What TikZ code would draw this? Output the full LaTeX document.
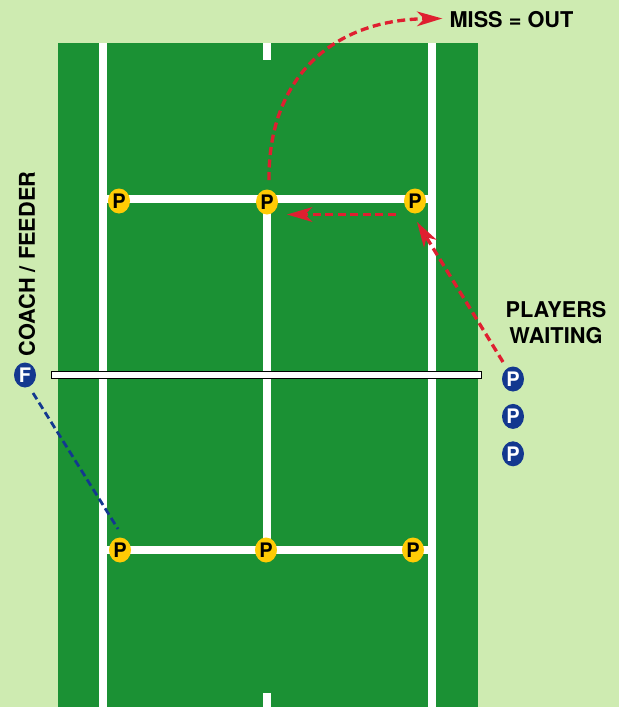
\documentclass[tikz,border=0pt]{standalone}
\usepackage{fontspec}
\setmainfont{TeX Gyre Heros}
\usepackage{xcolor}
\usetikzlibrary{arrows.meta,positioning,shapes.geometric}
\definecolor{surround}{HTML}{CEEBB1}
\definecolor{turf}{HTML}{1B9134}
\definecolor{ballred}{HTML}{DF1F30}
\definecolor{feederblue}{HTML}{13388F}
\definecolor{playeryellow}{HTML}{FFCB05}

\begin{document}
\begin{tikzpicture}[
  x=0.75pt, y=-0.75pt,
  node distance=8.9pt,
  player/.style={ellipse, fill=playeryellow, text=black, inner sep=0pt, minimum width=16.5pt, minimum height=18.75pt, font=\fontsize{15}{15}\selectfont\bfseries},
  waiting/.style={player, fill=feederblue, text=white},
  caption/.style={align=center, inner sep=0pt, text=black, font=\fontsize{16.3}{19.5}\selectfont\bfseries},
  shot/.style={-{Stealth[length=19pt, width=11pt, inset=5.5pt]}, ballred, line width=2.5pt, dash pattern=on 6pt off 3.4pt},
  feed/.style={feederblue, line width=2.1pt, dash pattern=on 5.5pt off 3pt}
]
\useasboundingbox (0,0) rectangle (619,707);
\fill[surround] (0,0) rectangle (619,707);
\fill[turf] (58,43) rectangle (478,707);

% court lines
\fill[white] (99,43) rectangle (107,707);
\fill[white] (428,43) rectangle (436,707);
\fill[white] (107,195) rectangle (428,203);
\fill[white] (107,546) rectangle (428,554);
\fill[white] (263,195) rectangle (271,554);
\fill[white] (263,43) rectangle (271,60);
\fill[white] (263,693) rectangle (271,707);
\draw[fill=white, line width=1.2pt] (51.5,371.5) rectangle (481.5,378.5);

\node[player] (backleft) at (119,201) {P};
\node[player] (backmid) at (267,202) {P};
\node[player] (backright) at (415,201) {P};
\node[player] (frontleft) at (120,550) {P};
\node[player] (frontmid) at (266,550) {P};
\node[player] (frontright) at (413,550) {P};

\node[waiting] (feeder) at (25,375) {F};
\node[waiting] (waitone) at (513,379) {P};
\node[waiting, below=of waitone] (waittwo) {P};
\node[waiting, below=of waittwo] (waitthree) {P};

\node[caption] (missout) at (511.5,19.5) {MISS = OUT};
\node[caption] (waitlabel) at (556,323) {PLAYERS\\WAITING};
\node[caption, rotate=90] (coach) at (27,264) {COACH / FEEDER};

\draw[feed] ([shift={(8,18)}]feeder.center) -- ([shift={(-2,-21)}]frontleft.center);
\draw[shot] ([shift={(-10,-17)}]waitone.center) -- ([shift={(2,21)}]backright.center);
\draw[shot] ([shift={(-19,13.5)}]backright.center) -- ([shift={(20,12.5)}]backmid.center);
\draw[shot] ([shift={(2,-22)}]backmid.center) .. controls (268,80) and (330,20) .. ([shift={(-7,-1)}]missout.west);
\end{tikzpicture}
\end{document}
